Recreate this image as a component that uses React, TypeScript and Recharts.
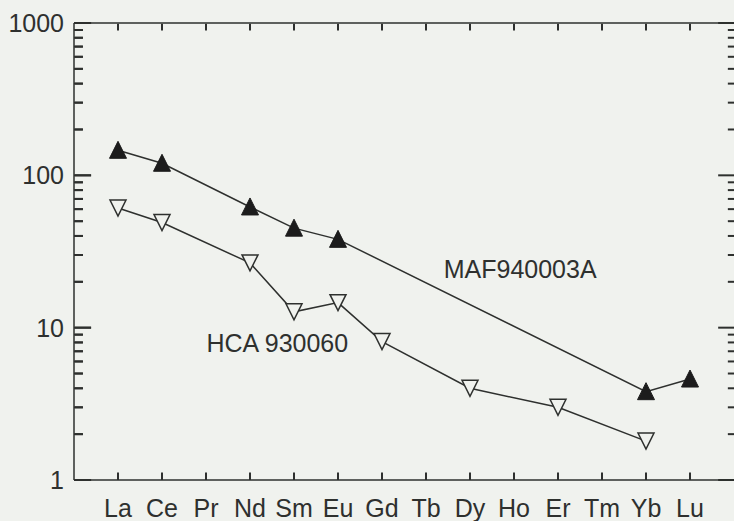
import React from 'react';
import { LineChart, Line, XAxis, YAxis, ReferenceDot, ReferenceLine } from 'recharts';

// chondrite-normalised REE pattern
const elements = ['La', 'Ce', 'Pr', 'Nd', 'Sm', 'Eu', 'Gd', 'Tb', 'Dy', 'Ho', 'Er', 'Tm', 'Yb', 'Lu'];
const mafValues = [146, 120, null, 62, 45, 38, null, null, null, null, null, null, 3.8, 4.6];
const hcaValues = [61, 49, null, 26.6, 12.7, 14.6, 8.1, null, 4.0, null, 3.0, null, 1.8, null];
const decades = [1, 10, 100, 1000];
const seriesNames = ['MAF940003A', 'HCA 930060'];

const data = elements.map((el, i) => ({ x: i + 1, el, maf: mafValues[i], hca: hcaValues[i] }));
const xTicks = elements.map((_, i) => i + 1);
const yTicks = decades.flatMap((d) => (d === 1000 ? [d] : [1, 2, 3, 4, 5, 6, 7, 8, 9].map((m) => m * d)));

const X_MIN = 0;
const X_MAX = 15;
const INK = '#2e302e';
const BG = '#f0f2ee';
const FONT = '"Liberation Sans", Arial, sans-serif';

const BottomLabel = (props: any) => {
  const x = Number(props.x);
  const y = Number(props.y);
  return (
    <g>
      <path d={`M${x},${y}L${x},${y - 7}`} stroke={INK} strokeWidth={2} fill="none" />
      <text x={x} y={y + 37} textAnchor="middle" fontSize={25} fontFamily={FONT} fill={INK} stroke="none">
        {elements[props.payload.value - 1]}
      </text>
    </g>
  );
};

const LeftLabel = (props: any) => {
  const x = Number(props.x);
  const y = Number(props.y);
  const major = decades.includes(props.payload.value);
  return (
    <g>
      <path d={`M${x},${y}L${x + (major ? 17 : 9)},${y}`} stroke={INK} strokeWidth={2} fill="none" />
      {major && (
        <text x={x - 10} y={y + 9} textAnchor="end" fontSize={25} fontFamily={FONT} fill={INK} stroke="none">
          {props.payload.value}
        </text>
      )}
    </g>
  );
};

const UpTriangle = (props: any) => {
  const { cx, cy, payload } = props;
  if (payload.maf == null) return <g />;
  return (
    <polygon
      points={`${cx},${cy - 9} ${cx - 8.5},${cy + 8} ${cx + 8.5},${cy + 8}`}
      fill="#1c1c1c"
      stroke="#1c1c1c"
      strokeWidth={1}
    />
  );
};

const DownTriangle = (props: any) => {
  const { cx, cy, payload } = props;
  if (payload.hca == null) return <g />;
  return (
    <polygon
      points={`${cx - 8},${cy - 8} ${cx + 8},${cy - 8} ${cx},${cy + 8}`}
      fill={BG}
      stroke={INK}
      strokeWidth={1.5}
    />
  );
};

const textShape = (label: string) => (p: any) => (
  <text x={p.cx} y={p.cy} textAnchor="middle" fontSize={25} fontFamily={FONT} fill={INK}>
    {label}
  </text>
);

// inward tick marks on all four sides of the frame
const tickSegments = [
  ...xTicks.map((t) => [{ x: t, y: 1.01 }, { x: t, y: 1.12 }]),
  ...xTicks.map((t) => [{ x: t, y: 990 }, { x: t, y: 1000 / 1.12 }]),
  ...yTicks.map((v) => [{ x: X_MIN + 0.02, y: v }, { x: X_MIN + (decades.includes(v) ? 0.39 : 0.2), y: v }]),
  ...yTicks.map((v) => [{ x: X_MAX, y: v }, { x: X_MAX - (decades.includes(v) ? 0.36 : 0.14), y: v }]),
];

export default function App() {
  return (
    <div style={{ position: 'absolute', left: 0, top: 0, width: 734, height: 521, background: BG }}>
      <LineChart width={734} height={521} data={data} margin={{ top: 0, right: 0, bottom: 0, left: 0 }}>
        <XAxis
          dataKey="x"
          type="number"
          domain={[X_MIN, X_MAX]}
          ticks={xTicks}
          interval={0}
          height={41}
          tickSize={0}
          tickMargin={0}
          tickLine={false}
          stroke={INK}
          strokeWidth={1.5}
          tick={BottomLabel}
        />
        <XAxis
          xAxisId="top"
          orientation="top"
          dataKey="x"
          type="number"
          domain={[X_MIN, X_MAX]}
          height={23}
          tickLine={false}
          tick={false}
          stroke={INK}
          strokeWidth={1.5}
        />
        <YAxis
          type="number"
          scale="log"
          domain={[1, 1000]}
          allowDataOverflow
          ticks={yTicks}
          interval={0}
          width={74}
          tickSize={0}
          tickMargin={0}
          tickLine={false}
          stroke={INK}
          strokeWidth={1.5}
          tick={LeftLabel}
        />
        {tickSegments.map((seg, i) => (
          <ReferenceLine key={i} segment={seg} stroke={INK} strokeWidth={2} ifOverflow="visible" />
        ))}
        <Line
          dataKey="maf"
          stroke={INK}
          strokeWidth={1.5}
          connectNulls
          dot={<UpTriangle />}
          activeDot={false}
          isAnimationActive={false}
        />
        <Line
          dataKey="hca"
          stroke={INK}
          strokeWidth={1.5}
          connectNulls
          dot={<DownTriangle />}
          activeDot={false}
          isAnimationActive={false}
        />
        <ReferenceDot x={10.14} y={21.2} r={0} shape={textShape(seriesNames[0])} />
        <ReferenceDot x={4.62} y={6.95} r={0} shape={textShape(seriesNames[1])} />
      </LineChart>
    </div>
  );
}
